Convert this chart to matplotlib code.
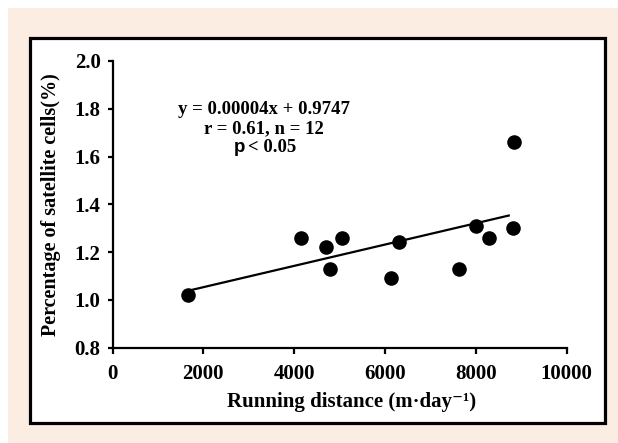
import matplotlib
matplotlib.use("Agg")
import matplotlib.pyplot as plt
from matplotlib.patches import Rectangle
import numpy as np

# ---- data ----
distance = [1656, 4150, 4706, 4794, 5043, 6129, 6312, 7639, 7998, 8284, 8826, 8841]
satellite_pct = [1.02, 1.26, 1.22, 1.13, 1.26, 1.09, 1.24, 1.13, 1.31, 1.26, 1.30, 1.66]
fit_x_range = [1656, 8724]
x_ticks = [0, 2000, 4000, 6000, 8000, 10000]
y_ticks = [0.8, 1.0, 1.2, 1.4, 1.6, 1.8, 2.0]
annotation = ["y = 0.00004x + 0.9747", "r = 0.61, n = 12"]
p_symbol = "p"
p_rest = "< 0.05"

W, H = 618, 443
fig = plt.figure(figsize=(W / 100, H / 100), dpi=100, facecolor="white")

def px(x0, y0, x1, y1):
    return (x0 / W, 1 - y1 / H, (x1 - x0) / W, (y1 - y0) / H)

# pink background
bx, by, bw, bh = px(8, 8, W, H)
fig.patches.append(Rectangle((bx, by), bw, bh, transform=fig.transFigure,
                             facecolor="#FCEDE3", edgecolor="none", zorder=0))
# white framed box
bx, by, bw, bh = px(29.5, 37.5, 605, 423)
fig.patches.append(Rectangle((bx, by), bw, bh, transform=fig.transFigure,
                             facecolor="white", edgecolor="black", linewidth=2.3, zorder=1))

ax = fig.add_axes(px(112.5, 61, 566.7, 347.5))
ax.set_facecolor("none")
ax.set_zorder(2)

serif = ["Liberation Serif", "DejaVu Serif"]

ax.scatter(distance, satellite_pct, s=110, color="black", zorder=3, linewidths=0)
coef = np.polyfit(distance, satellite_pct, 1)
fx = np.array(fit_x_range, dtype=float)
ax.plot(fx, np.polyval(coef, fx), color="black", linewidth=1.6, zorder=2)

ax.set_xlim(0, 10000)
ax.set_ylim(0.8, 2.0)
ax.set_xticks(x_ticks)
ax.set_yticks(y_ticks)
ax.set_xticklabels([str(t) for t in x_ticks], family=serif, fontweight="bold", fontsize=15)
ax.set_yticklabels([f"{t:.1f}" for t in y_ticks], family=serif, fontweight="bold", fontsize=15)

for s in ["top", "right"]:
    ax.spines[s].set_visible(False)
for s in ["left", "bottom"]:
    ax.spines[s].set_linewidth(1.6)
ax.tick_params(axis="x", direction="out", length=4.5, width=1.6, pad=7.5)
ax.tick_params(axis="y", direction="out", length=3.5, width=1.6, pad=5)

ax.set_xlabel("Running distance (m\u00b7day\u207b\u00b9)", family=serif,
              fontweight="bold", fontsize=15, va="center")
ax.xaxis.set_label_coords(0.527, -0.19)
ax.set_ylabel("Percentage of satellite cells(%)", family=serif,
              fontweight="bold", fontsize=14.5, labelpad=10)

ax.text(0.3336, 0.829, annotation[0], transform=ax.transAxes, ha="center", va="center",
        family=serif, fontweight="bold", fontsize=13.5)
ax.text(0.3336, 0.763, annotation[1], transform=ax.transAxes, ha="center", va="center",
        family=serif, fontweight="bold", fontsize=13.5)
ax.text(0.2917, 0.699, p_symbol, transform=ax.transAxes, ha="right", va="center",
        family="Liberation Sans", fontweight="bold", fontsize=13.5)
ax.text(0.2983, 0.699, p_rest, transform=ax.transAxes, ha="left", va="center",
        family=serif, fontweight="bold", fontsize=13.5)

fig.savefig("out.png", dpi=100, facecolor="white")
